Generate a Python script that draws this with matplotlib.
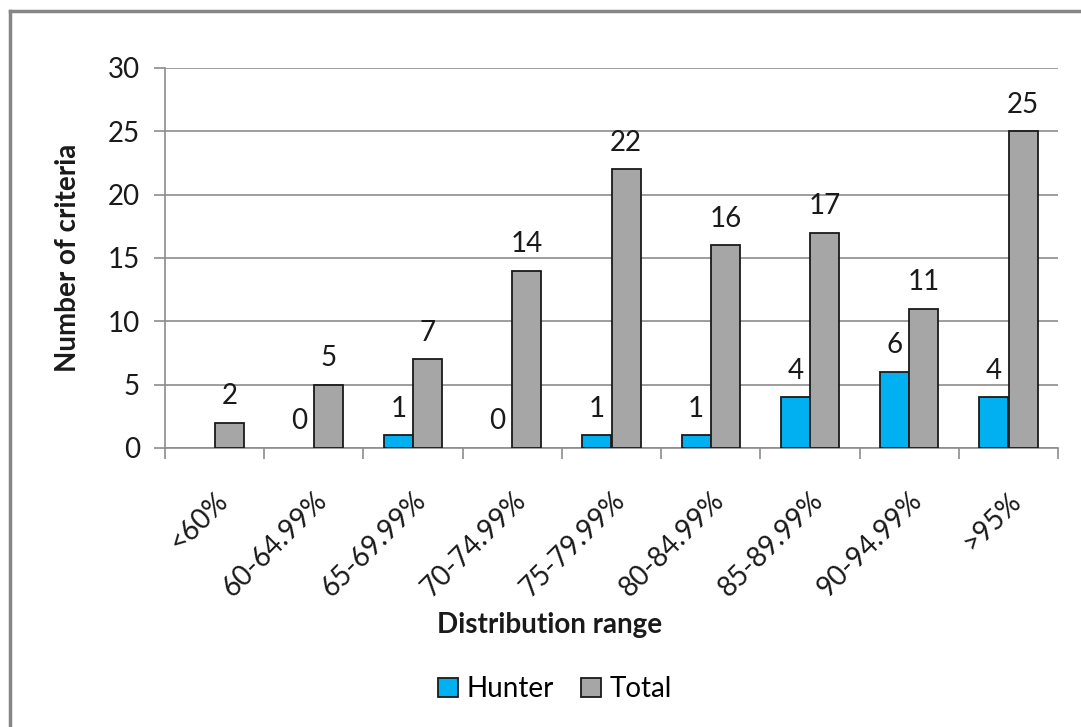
import matplotlib
matplotlib.use("Agg")
import matplotlib.pyplot as plt
import numpy as np
from matplotlib.lines import Line2D
from matplotlib.patches import Patch

categories = ["<60%", "60-64.99%", "65-69.99%", "70-74.99%", "75-79.99%",
              "80-84.99%", "85-89.99%", "90-94.99%", ">95%"]
hunter = [np.nan, 0, 1, 0, 1, 1, 4, 6, 4]
total = [2, 5, 7, 14, 22, 16, 17, 11, 25]
yticks = [0, 5, 10, 15, 20, 25, 30]

plt.rcParams['font.family'] = ['Lato', 'DejaVu Sans']
FS = 20
TXT = "#1a1a1a"
C_H = "#00B0F0"
C_T = "#A6A6A6"

fig = plt.figure(figsize=(10.81, 7.27), dpi=100)
ax = fig.add_axes([165/1081, 1-448/727, (1058-165)/1081, (448-68)/727])

x = np.arange(len(categories))
w = 0.292
off = 0.148
b1 = ax.bar(x - off, hunter, w, color=C_H, edgecolor=TXT, linewidth=1.3, zorder=3)
b2 = ax.bar(x + off, total, w, color=C_T, edgecolor=TXT, linewidth=1.3, zorder=3)
for patch, v in zip(b1.patches, hunter):
    if not (v > 0):
        patch.set_edgecolor("none")

for xi, v in zip(x, hunter):
    if not np.isnan(v):
        ax.annotate(f"{int(v)}", (xi - off, v), xytext=(0, 13.5), textcoords="offset points",
                    ha="center", va="baseline", fontsize=FS, color=TXT)
for xi, v in zip(x, total):
    ax.annotate(f"{int(v)}", (xi + off, v), xytext=(0, 13.5), textcoords="offset points",
                ha="center", va="baseline", fontsize=FS, color=TXT)

ax.set_xlim(-0.5, len(categories) - 0.5)
ax.set_ylim(0, 30)
ax.set_yticks(yticks)
ax.set_yticklabels([str(t) for t in yticks], fontsize=FS, color=TXT)
ax.yaxis.grid(True, color="#8c8c8c", linewidth=1.2, zorder=0)
ax.set_axisbelow(True)

ax.set_xticks(np.arange(len(categories) + 1) - 0.5, minor=False)
ax.set_xticklabels([])
ax.set_xticks(x, minor=True)
ax.set_xticklabels(categories, minor=True, rotation=45, ha="right",
                   rotation_mode="anchor", fontsize=FS, color=TXT)
ax.tick_params(axis="x", which="minor", length=0, pad=28)
ax.tick_params(axis="x", which="major", length=8, width=1.2, color="#8c8c8c", direction="out")
ax.tick_params(axis="y", length=8, width=1.2, color="#8c8c8c", pad=10)

for s in ["top", "right"]:
    ax.spines[s].set_visible(False)
for s in ["left", "bottom"]:
    ax.spines[s].set_color("#8c8c8c")
    ax.spines[s].set_linewidth(1.2)

fig.text(68/1081, 1-258/727, "Number of criteria", rotation=90, ha="center", va="center",
         fontsize=FS, fontweight="bold", color=TXT)
fig.text(550/1081, 1-625/727, "Distribution range", ha="center", va="center",
         fontsize=FS, fontweight="bold", color=TXT)

handles = [Patch(facecolor=C_H, edgecolor=TXT, linewidth=1.3),
           Patch(facecolor=C_T, edgecolor=TXT, linewidth=1.3)]
fig.legend(handles=handles, labels=["Hunter", "Total"], loc="center",
           bbox_to_anchor=(555/1081, 1-689/727), ncol=2, frameon=False,
           fontsize=FS, handlelength=0.7, handleheight=0.7, handletextpad=0.3,
           columnspacing=1.0)

# outer chart border
fig.add_artist(Line2D([10/1081, 10/1081], [0, 1-11/727], transform=fig.transFigure,
                      color="#868686", linewidth=2.5))
fig.add_artist(Line2D([10/1081, 1], [1-11/727, 1-11/727], transform=fig.transFigure,
                      color="#868686", linewidth=2.5))

fig.savefig("out.png", dpi=100)
